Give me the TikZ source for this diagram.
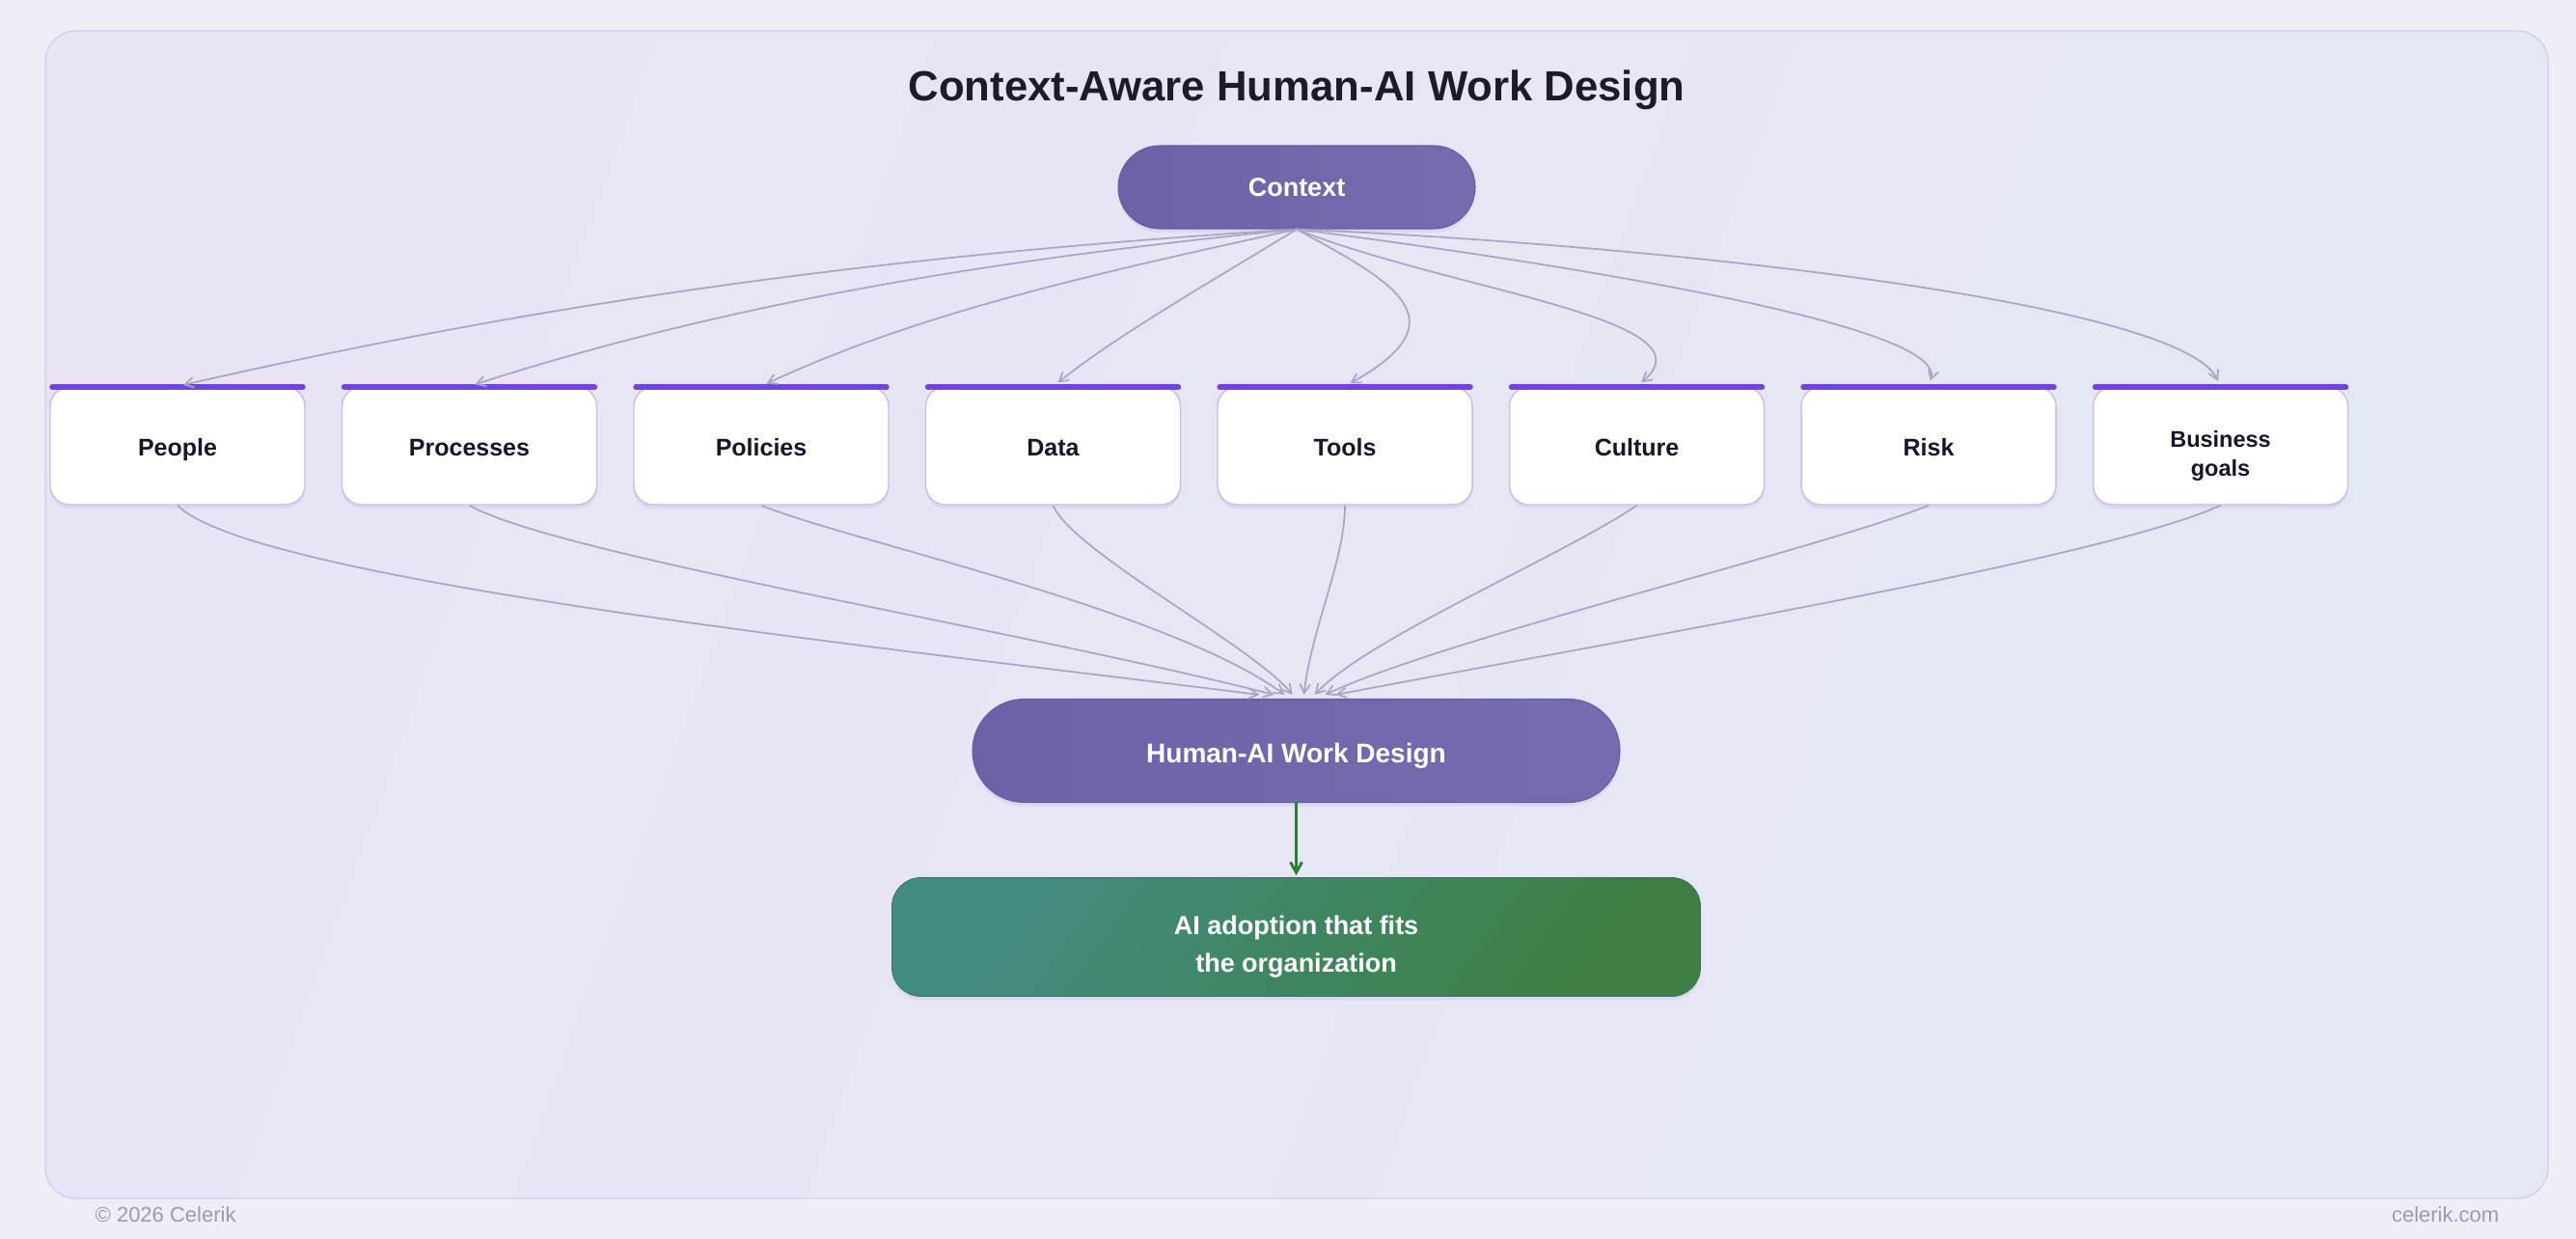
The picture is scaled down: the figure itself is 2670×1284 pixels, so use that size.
\documentclass[tikz,border=0pt]{standalone}
\usepackage{fontspec}
\setmainfont{Liberation Sans}
\usetikzlibrary{arrows.meta,calc,shadows}
\definecolor{bgout}{HTML}{EFEEF6}
\definecolor{frametop}{HTML}{E9E4F5}
\definecolor{framebot}{HTML}{E3E8F4}
\definecolor{frameline}{HTML}{D6D1EA}
\definecolor{purpA}{HTML}{6C62A7}
\definecolor{purpB}{HTML}{776CB0}
\definecolor{purpline}{HTML}{675CA3}
\definecolor{barc}{HTML}{7442DF}
\definecolor{boxline}{HTML}{CDBDEB}
\definecolor{edgec}{HTML}{A9A5C6}
\definecolor{greenA}{HTML}{438C82}
\definecolor{greenB}{HTML}{3D7F43}
\definecolor{garrow}{HTML}{2E7D32}
\definecolor{titlec}{HTML}{1C1B2E}
\definecolor{labc}{HTML}{16152A}
\definecolor{footc}{HTML}{9C9AB3}
\definecolor{shadowc}{HTML}{C9C1E6}
\begin{document}
\begin{tikzpicture}[x=0.75pt,y=-0.75pt,
  catbox/.style={draw=boxline, line width=1.1pt, fill=white, rounded corners=15pt,
    minimum width=198pt, minimum height=91.5pt, inner sep=0pt,
    drop shadow={shadow xshift=0pt, shadow yshift=-3pt, opacity=0.35, fill=shadowc}},
  catlab/.style={font=\fontsize{18.75}{22.5}\selectfont\bfseries, text=labc, align=center, inner sep=0pt, yshift=-3.75pt},
  onelab/.style={catlab, text height=0.72em, text depth=0.21em, yshift=-1.3pt},
  pill/.style={draw=purpline, line width=0.8pt, left color=purpA, right color=purpB,
    text=white, inner sep=0pt, align=center,
    drop shadow={shadow xshift=0pt, shadow yshift=-3pt, opacity=0.35, fill=shadowc}},
  whitelab/.style={text=white, align=center, inner sep=0pt},
  topbar/.style={draw=barc, line width=4.5pt, line cap=round},
  edgeline/.style={draw=edgec, line width=1.3pt, -{Straight Barb[length=7pt,width=8pt]}},
  footer/.style={font=\fontsize{16.5}{20}\selectfont, text=footc}
]
\useasboundingbox (0,0) rectangle (2670,1284);
\fill[bgout] (0,0) rectangle (2670,1284);
\draw[frameline, line width=1.1pt, rounded corners=24pt, left color=frametop, right color=framebot, shading angle=70] (47,32) rectangle (2641,1242);

\node[font=\fontsize{32.8}{40}\selectfont\bfseries, text=titlec] (title) at (1344,93) {Context-Aware Human-AI Work Design};

\node[pill, minimum width=277.5pt, minimum height=64.5pt, rounded corners=32.25pt,
  font=\fontsize{20.25}{24}\selectfont\bfseries] (ctx) at (1344,194) {Context};

\node[catbox, label={[onelab]center:People}]    (people)    at (184,462)    {};
\node[catbox, label={[onelab]center:Processes}] (processes) at (486.5,462)  {};
\node[catbox, label={[onelab]center:Policies}]  (policies)  at (789,462)    {};
\node[catbox, label={[onelab]center:Data}]      (data)      at (1091.5,462) {};
\node[catbox, label={[onelab]center:Tools}]     (tools)     at (1394,462)   {};
\node[catbox, label={[onelab]center:Culture}]   (culture)   at (1696.5,462) {};
\node[catbox, label={[onelab]center:Risk}]      (risk)      at (1999,462)   {};
\node[catbox, label={[catlab, yshift=-3.75pt, font=\fontsize{17.6}{22.5}\selectfont\bfseries]center:Business\\goals}] (goals) at (2301.5,462) {};

\foreach \n in {people,processes,policies,data,tools,culture,risk,goals}{
  \draw[topbar] ($(\n.north west)+(3,1)$) -- ($(\n.north east)+(-3,1)$);
}

\node[pill, minimum width=503.25pt, minimum height=80.25pt, rounded corners=40pt,
  label={[whitelab, yshift=-3.75pt, font=\fontsize{21}{25}\selectfont\bfseries]center:Human-AI Work Design}] (hai) at (1343.5,778) {};

\node[draw=greenA!80!black, line width=0.6pt, left color=greenA, right color=greenB, shading angle=55,
  rounded corners=22.5pt, minimum width=628.5pt, minimum height=92.25pt, inner sep=0pt,
  drop shadow={shadow xshift=0pt, shadow yshift=-3pt, opacity=0.35, fill=shadowc},
  label={[whitelab, yshift=-7.5pt, font=\fontsize{20.25}{29.25}\selectfont\bfseries]center:AI adoption that fits\\the organization}]
  (out) at (1343.5,971) {};

% context -> categories
\draw[edgeline, shorten >=4.5pt] (ctx.south) .. controls +(-444,28) and +(373,-85) .. (people.north);
\draw[edgeline, shorten >=4.5pt] (ctx.south) .. controls +(-300,30) and +(280,-90) .. (processes.north);
\draw[edgeline, shorten >=4.5pt] (ctx.south) .. controls +(-180,40) and +(170,-80) .. (policies.north);
\draw[edgeline, shorten >=4.5pt] (ctx.south) .. controls +(-90,55) and +(70,-55) .. (data.north);
\draw[edgeline, shorten >=4.5pt] (ctx.south) .. controls +(96,53) and +(126,-70) .. (tools.north);
\draw[edgeline, shorten >=4.5pt] (ctx.south) .. controls +(156,63) and +(84,-70) .. (culture.north);
\draw[edgeline, shorten >=4.5pt] (ctx.south) .. controls +(256,33) and +(20,-65) .. (risk.north);
\draw[edgeline, shorten >=4.5pt] (ctx.south) .. controls +(406,18) and +(-40,-85) .. (goals.north);

% categories -> work design
\draw[edgeline] (people.south)    .. controls +(76,77)   and +(-400,-50) .. ($(hai.north)+(-38,-4)$);
\draw[edgeline] (processes.south) .. controls +(93,52)   and +(-271,-69) .. ($(hai.north)+(-23,-4)$);
\draw[edgeline] (policies.south)  .. controls +(91,37)   and +(-122,-89) .. ($(hai.north)+(-12,-4)$);
\draw[edgeline] (data.south)      .. controls +(19,47)   and +(-40,-50)  .. ($(hai.north)+(-4,-4)$);
\draw[edgeline] (tools.south)     .. controls +(0,57)    and +(8,-70)    .. ($(hai.north)+(8,-4)$);
\draw[edgeline] (culture.south)   .. controls +(-76,52)  and +(57,-60)   .. ($(hai.north)+(19,-4)$);
\draw[edgeline] (risk.south)      .. controls +(-118,47) and +(126,-59)  .. ($(hai.north)+(30,-4)$);
\draw[edgeline] (goals.south)     .. controls +(-120,55) and +(315,-60)  .. ($(hai.north)+(41,-4)$);

% work design -> outcome
\draw[garrow, line width=2.2pt, -{Straight Barb[length=8pt,width=9pt]}] (hai.south) -- ($(out.north)+(0,-2)$);

\node[footer, anchor=base west] (copy) at (94,1266) {© 2026 Celerik};
\node[footer, anchor=base east] (site) at (2595,1266) {celerik.com};
\end{tikzpicture}
\end{document}
